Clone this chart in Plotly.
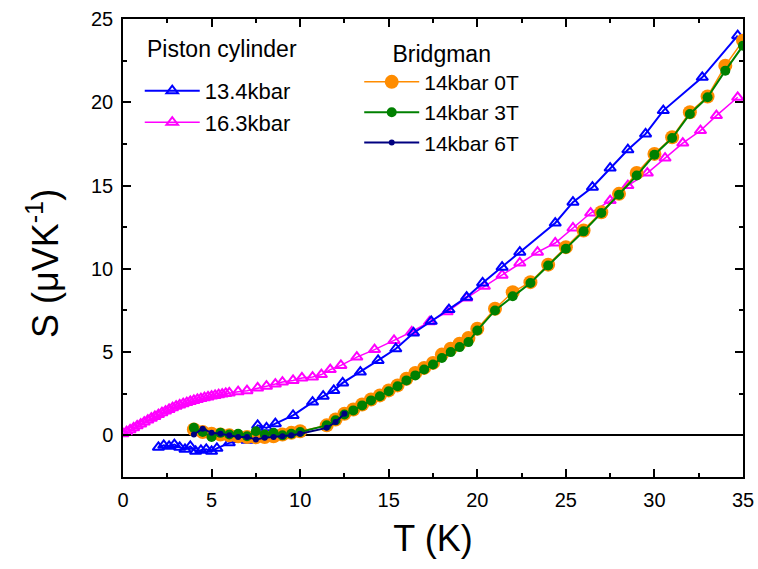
import plotly.graph_objects as go

# ---------------- data ----------------
T_134 = [2.0, 2.3, 2.6, 2.9, 3.2, 3.5, 3.8, 4.1, 4.4, 4.7, 5.0, 5.3,
         6.0, 7.0, 7.6, 8.1, 8.6, 9.6, 10.7, 11.3, 11.9, 12.4, 13.4, 14.4,
         15.4, 16.4, 17.4, 18.4, 19.4, 20.3, 21.4, 22.4, 24.4, 25.4, 26.5,
         27.5, 28.5, 29.5, 30.5, 32.7, 34.7]
S_134 = [-0.72, -0.6, -0.66, -0.55, -0.72, -0.84, -0.66, -0.96, -0.9, -0.84, -0.96, -0.78,
         -0.45, -0.3, 0.6, 0.45, 0.7, 1.2, 2.0, 2.35, 2.7, 3.15, 3.8, 4.5,
         5.2, 6.15, 6.85, 7.55, 8.3, 9.15, 10.1, 11.0, 12.75, 14.0, 14.9,
         16.05, 17.15, 18.1, 19.5, 21.5, 24.0]

T_163 = [0.0, 0.2, 0.4, 0.6, 0.8, 1.0, 1.2, 1.4, 1.6, 1.8, 2.0, 2.2, 2.4, 2.6, 2.8,
         3.0, 3.2, 3.4, 3.6, 3.8, 4.0, 4.2, 4.4, 4.6, 4.8, 5.0, 5.2, 5.4, 5.6, 5.8,
         6.0, 6.5, 7.0, 7.6, 8.1, 8.6, 9.0, 9.6, 10.1, 10.7, 11.2, 11.7, 12.3, 13.2,
         14.2, 15.3, 16.3, 17.3, 18.3, 19.4, 20.4, 21.4, 22.4, 23.4, 24.4, 25.4,
         26.4, 27.5, 28.5, 29.6, 30.6, 31.6, 32.6, 33.5, 34.7]
S_163 = [0.10, 0.22, 0.33, 0.45, 0.57, 0.68, 0.80, 0.92, 1.03, 1.14, 1.25, 1.36, 1.46,
         1.56, 1.66, 1.75, 1.83, 1.90, 1.97, 2.04, 2.10, 2.16, 2.21, 2.26, 2.31, 2.36,
         2.40, 2.44, 2.48, 2.52, 2.55, 2.62, 2.68, 2.85, 2.95, 3.08, 3.2, 3.3, 3.45,
         3.5, 3.65, 3.95, 4.2, 4.7, 5.15, 5.7, 6.22, 6.82, 7.42, 8.25, 8.95, 9.62,
         10.35, 11.0, 11.55, 12.45, 13.35, 14.1, 15.0, 15.75, 16.65, 17.55, 18.3,
         19.2, 20.3]

T_bridg = [4.0, 4.5, 5.0, 5.5, 6.0, 6.5, 7.0, 7.5, 8.0, 8.5, 9.0, 9.5, 10.0,
           11.5, 12.0, 12.5, 13.0, 13.5, 14.0, 14.5, 15.0, 15.5, 16.0, 16.5,
           17.0, 17.5, 18.0, 18.5, 19.0, 19.5, 20.0, 21.0, 22.0, 23.0, 24.0,
           25.0, 26.0, 27.0, 28.0, 29.0, 30.0, 31.0, 32.0, 33.0, 34.0, 35.0]
S_0T = [0.35, 0.2, 0.1, 0.05, 0.0, -0.05, -0.1, -0.12, -0.1, -0.05, 0.05, 0.15, 0.25,
        0.6, 0.95, 1.3, 1.55, 1.85, 2.15, 2.4, 2.7, 3.0, 3.4, 3.75,
        4.05, 4.35, 4.85, 5.2, 5.5, 5.85, 6.4, 7.6, 8.6, 9.2, 10.25,
        11.3, 12.3, 13.4, 14.5, 15.75, 16.9, 17.9, 19.4, 20.35, 22.2, 23.7]
S_3T = [0.45, 0.2, -0.1, 0.15, 0.05, 0.1, -0.05, 0.25, 0.05, 0.15, 0.0, 0.1, 0.2,
        0.6, 0.9, 1.25, 1.5, 1.8, 2.1, 2.35, 2.65, 2.95, 3.3, 3.6,
        3.95, 4.25, 4.65, 5.0, 5.3, 5.6, 6.3, 7.5, 8.35, 9.15, 10.2,
        11.2, 12.25, 13.35, 14.45, 15.6, 16.85, 17.85, 19.3, 20.3, 21.9, 23.4]

T_6T = [4.0, 4.5, 5.0, 5.5, 6.0, 6.5, 7.0, 7.5, 8.0, 8.5, 9.0, 9.5, 10.0, 11.5, 12.0, 12.5]
S_6T = [0.05, 0.4, 0.15, 0.1, 0.0, -0.1, -0.1, -0.25, -0.15, -0.1, -0.05, 0.0, 0.1, 0.45, 0.8, 1.3]

x_ticks = [0, 5, 10, 15, 20, 25, 30, 35]
y_ticks = [0, 5, 10, 15, 20, 25]

FONT = "Liberation Sans, Arial, sans-serif"

fig = go.Figure()

fig.add_trace(go.Scatter(
    x=T_163, y=S_163, mode="lines+markers", name="16.3kbar",
    line=dict(color="#FF00FF", width=1.5),
    marker=dict(symbol="triangle-up-open", size=10, color="#FF00FF", line=dict(width=2, color="#FF00FF")),
    legend="legend", legendrank=2))
fig.add_trace(go.Scatter(
    x=T_134, y=S_134, mode="lines+markers", name="13.4kbar",
    line=dict(color="#0000FF", width=2),
    marker=dict(symbol="triangle-up-open", size=10, color="#0000FF", line=dict(width=2, color="#0000FF")),
    legend="legend", legendrank=1))
fig.add_trace(go.Scatter(
    x=T_bridg, y=S_0T, mode="lines+markers", name="14kbar 0T",
    line=dict(color="#FF8C00", width=1.5),
    marker=dict(symbol="circle", size=14, color="#FF8C00"),
    legend="legend2", legendrank=1))
fig.add_trace(go.Scatter(
    x=T_bridg, y=S_3T, mode="lines+markers", name="14kbar 3T",
    line=dict(color="#008000", width=2),
    marker=dict(symbol="circle", size=10, color="#008000"),
    legend="legend2", legendrank=2))
fig.add_trace(go.Scatter(
    x=T_6T, y=S_6T, mode="lines+markers", name="14kbar 6T",
    line=dict(color="#000080", width=2),
    marker=dict(symbol="circle", size=6, color="#000080"),
    legend="legend2", legendrank=3))

axis_common = dict(
    showline=True, linecolor="black", linewidth=1.5, mirror="ticks",
    ticks="inside", ticklen=8, tickwidth=1.5, tickcolor="black",
    showgrid=False, tickfont=dict(family=FONT, size=20, color="black"),
    ticklabelstandoff=4, automargin=False,
)

fig.update_xaxes(
    range=[0, 35], tickvals=x_ticks, ticktext=[str(v) for v in x_ticks],
    minor=dict(dtick=2.5, ticks="inside", ticklen=4, tickwidth=1.5, tickcolor="black"),
    zeroline=False,
    title=dict(text="T (K)", font=dict(family=FONT, size=36, color="black"), standoff=16),
    **axis_common)
fig.update_yaxes(
    range=[-2.5, 25], tickvals=y_ticks, ticktext=[str(v) for v in y_ticks],
    minor=dict(dtick=2.5, ticks="inside", ticklen=4, tickwidth=1.5, tickcolor="black"),
    zeroline=True, zerolinecolor="black", zerolinewidth=1.5,
    **axis_common)

legend_common = dict(
    bgcolor="rgba(0,0,0,0)", borderwidth=0, xanchor="left", yanchor="top",
    itemwidth=55, tracegroupgap=0,
)
fig.update_layout(
    width=758, height=569,
    margin=dict(l=123, r=15, t=19, b=92),
    paper_bgcolor="white", plot_bgcolor="white",
    showlegend=True,
    legend=dict(x=0.027, y=0.889, font=dict(family=FONT, size=22, color="black"),
                **legend_common),
    legend2=dict(x=0.381, y=0.972, font=dict(family=FONT, size=21, color="black"),
                 title=dict(text="Bridgman", side="top center",
                            font=dict(family=FONT, size=23, color="black")),
                 **legend_common),
    annotations=[
        dict(text="Piston cylinder", xref="paper", yref="paper",
             x=0.035, y=0.934, xanchor="left", yanchor="middle",
             showarrow=False, font=dict(family=FONT, size=23, color="black")),
        dict(text="S (μVK<sup>-1</sup>)", xref="paper", yref="paper",
             x=-0.129, y=0.465, xanchor="center", yanchor="middle", textangle=-90,
             showarrow=False, font=dict(family=FONT, size=36, color="black")),
    ],
)

fig.write_html("out.html", config={"displayModeBar": False},
               post_script="document.body.style.margin='0';")
